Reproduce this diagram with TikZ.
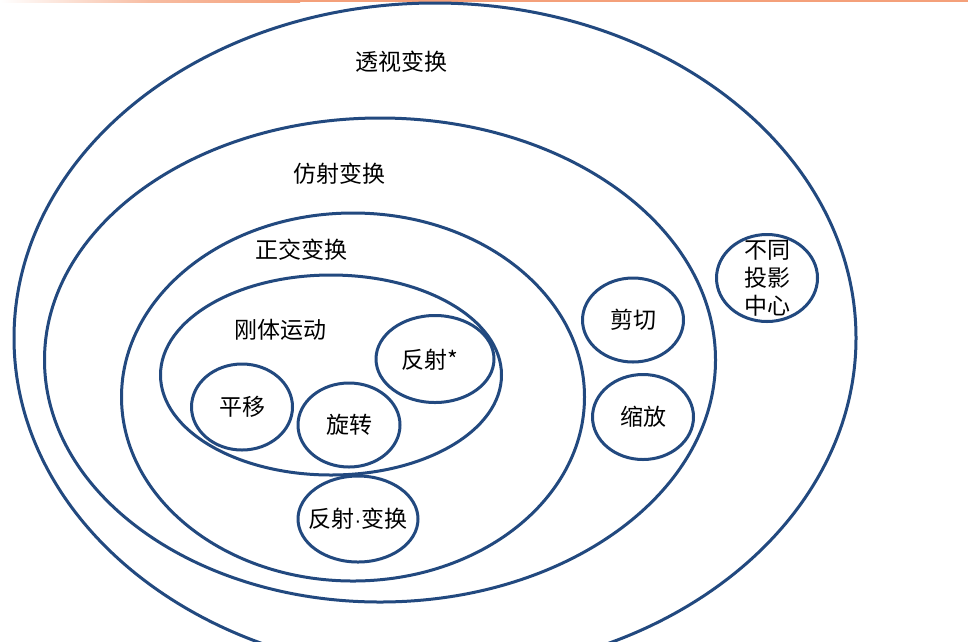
\documentclass[tikz,border=0pt]{standalone}
\usepackage{fontspec}
\setmainfont{Noto Sans CJK SC}
\newfontfamily\latinfont{Liberation Sans}
\usetikzlibrary{shapes.geometric}
\definecolor{ringblue}{HTML}{22497F}
\definecolor{toporange}{HTML}{F4A07A}
\tikzset{
  ring/.style={draw=ringblue, line width=3pt, ellipse, inner sep=0pt},
  lbl/.style={font=\fontsize{23}{27}\selectfont, inner sep=0pt, align=center},
}
\begin{document}
\begin{tikzpicture}[x=1pt,y=-1pt]
\useasboundingbox (0,0) rectangle (968,641);
\clip (0,0) rectangle (968,641);
\fill[white] (0,0) rectangle (968,641);
\shade[left color=white, right color=toporange, middle color=toporange!70] (0,0) rectangle (300,2.2);
\fill[toporange] (300,0) rectangle (968,2.2);
% big ellipses
\node[ring, minimum width=842, minimum height=670] (persp) at (435,338) {};
\node[ring, minimum width=671, minimum height=484] (affine) at (380,360) {};
\node[ring, minimum width=463, minimum height=368] (ortho) at (353,397) {};
\node[ring, minimum width=341, minimum height=200] (rigid) at (331,375) {};
% small circles
\node[ring, minimum width=101, minimum height=86] (trans) at (242,407) {};
\node[ring, minimum width=102, minimum height=84] (rot) at (349,425) {};
\node[ring, minimum width=118, minimum height=87] (refl) at (435,359) {};
\node[ring, minimum width=120, minimum height=86] (reflt) at (358,519) {};
\node[ring, minimum width=101, minimum height=84] (shear) at (633,320) {};
\node[ring, minimum width=101, minimum height=85] (scale) at (643,417) {};
\node[ring, minimum width=101, minimum height=87] (proj) at (767,278) {};
% labels
\node[lbl] (lpersp) at (401,62) {透视变换};
\node[lbl] (laffine) at (339,174) {仿射变换};
\node[lbl] (lortho) at (301,250) {正交变换};
\node[lbl] (lrigid) at (280,330) {刚体运动};
\node[lbl] at (trans) {平移};
\node[lbl] at (rot) {旋转};
\node[lbl] at (430,360) {反射*};
\node[lbl] at (reflt) {反射{\latinfont\fontsize{20}{24}\selectfont ·}变换};
\node[lbl] at (shear) {剪切};
\node[lbl] at (scale) {缩放};
\node[lbl, font=\fontsize{23}{28}\selectfont] at (proj) {不同\\投影\\中心};
\end{tikzpicture}
\end{document}
